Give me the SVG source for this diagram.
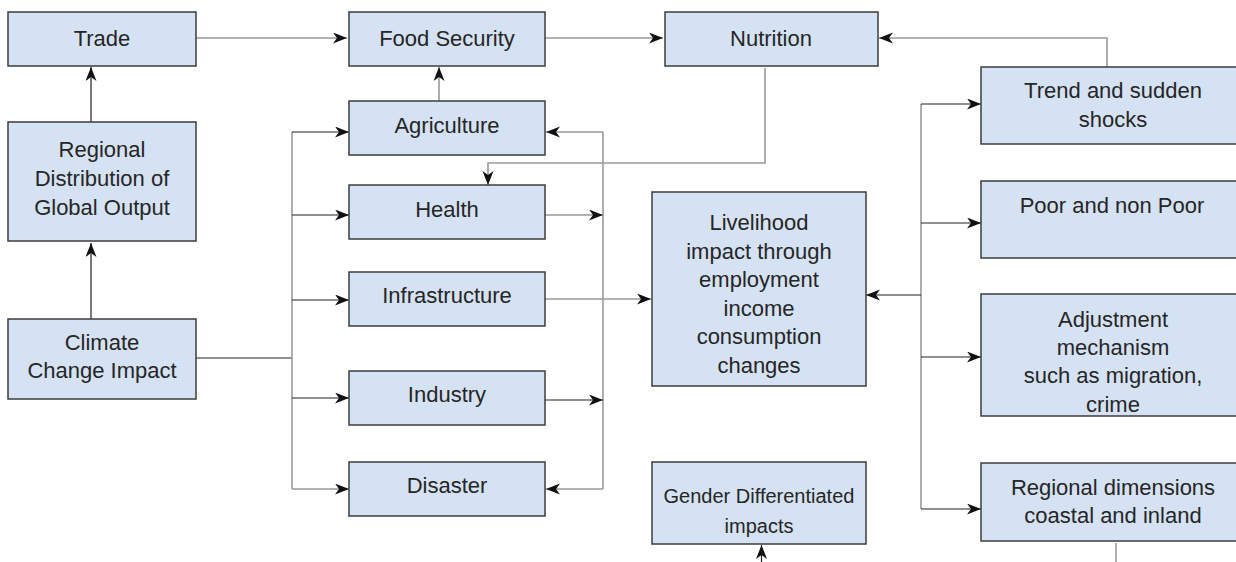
<svg xmlns="http://www.w3.org/2000/svg" width="1236" height="562" viewBox="0 0 1236 562">
<style>
.box{fill:#d5e2f3;stroke:#3c3c3c;stroke-width:1.5}
.t{font-family:"Liberation Sans",Arial,sans-serif;font-size:22px;fill:#262626;text-anchor:middle}
.s{font-size:20px}
.c{fill:none;stroke:#222;stroke-width:1.2}
.g{fill:none;stroke:#9a9a9a;stroke-width:1.6}
</style>
<defs>
<marker id="a" markerUnits="userSpaceOnUse" markerWidth="16" markerHeight="13" refX="14" refY="5.5" orient="auto">
<path d="M0,0 L14,5.5 L0,11 L4,5.5 z" fill="#111"/>
</marker>
</defs>
<rect width="1236" height="562" fill="#fff"/>
<g id="connectors">
<path class="g" d="M196,38 H347" marker-end="url(#a)"/>
<path class="g" d="M545,38 H663" marker-end="url(#a)"/>
<path class="c" d="M91,122 V67" marker-end="url(#a)"/>
<path class="g" d="M439,102 V67" marker-end="url(#a)"/>
<path class="c" d="M91,319 V243" marker-end="url(#a)"/>
<path class="c" d="M196,358 H292"/>
<path class="g" d="M292,132 V489"/>
<path class="c" d="M292,132 H349" marker-end="url(#a)"/>
<path class="c" d="M292,215 H349" marker-end="url(#a)"/>
<path class="c" d="M292,300 H349" marker-end="url(#a)"/>
<path class="c" d="M292,398 H349" marker-end="url(#a)"/>
<path class="g" d="M292,489 H349" marker-end="url(#a)"/>
<path class="g" d="M603,132 V489"/>
<path class="g" d="M603,132 H546" marker-end="url(#a)"/>
<path class="g" d="M603,489 H546" marker-end="url(#a)"/>
<path class="g" d="M545,215 H603" marker-end="url(#a)"/>
<path class="c" d="M545,400 H603" marker-end="url(#a)"/>
<path class="g" d="M545,299 H651" marker-end="url(#a)"/>
<path class="g" d="M765,68 V163 H488 V185" marker-end="url(#a)"/>
<path class="g" d="M1107,67 V38 H879" marker-end="url(#a)"/>
<path class="g" d="M921,104 V509"/>
<path class="c" d="M921,104 H981" marker-end="url(#a)"/>
<path class="c" d="M921,223 H981" marker-end="url(#a)"/>
<path class="c" d="M921,295 H866" marker-end="url(#a)"/>
<path class="c" d="M921,357 H981" marker-end="url(#a)"/>
<path class="c" d="M921,509 H981" marker-end="url(#a)"/>
<path class="c" d="M761.5,562 V545" marker-end="url(#a)"/>
<path class="g" d="M1116,543 V562"/>
</g>
<g id="trade"><rect class="box" x="8" y="12" width="188" height="54"/><text class="t" x="102" y="46">Trade</text></g>
<g id="food-security"><rect class="box" x="349" y="12" width="196" height="54"/><text class="t" x="447" y="46">Food Security</text></g>
<g id="nutrition"><rect class="box" x="665" y="12" width="213" height="54"/><text class="t" x="771" y="46">Nutrition</text></g>
<g id="agriculture"><rect class="box" x="349" y="101" width="196" height="54"/><text class="t" x="447" y="133">Agriculture</text></g>
<g id="regional-distribution"><rect class="box" x="8" y="122" width="188" height="119"/><text class="t" x="102" y="157">Regional</text><text class="t" x="102" y="186">Distribution of</text><text class="t" x="102" y="215">Global Output</text></g>
<g id="health"><rect class="box" x="349" y="185" width="196" height="54"/><text class="t" x="447" y="217">Health</text></g>
<g id="infrastructure"><rect class="box" x="349" y="272" width="196" height="54"/><text class="t" x="447" y="303">Infrastructure</text></g>
<g id="climate"><rect class="box" x="8" y="319" width="188" height="80"/><text class="t" x="102" y="350">Climate</text><text class="t" x="102" y="378">Change Impact</text></g>
<g id="industry"><rect class="box" x="349" y="371" width="196" height="54"/><text class="t" x="447" y="402">Industry</text></g>
<g id="disaster"><rect class="box" x="349" y="462" width="196" height="54"/><text class="t" x="447" y="493">Disaster</text></g>
<g id="livelihood"><rect class="box" x="652" y="192" width="214" height="194"/>
<text class="t" x="759" y="230">Livelihood</text><text class="t" x="759" y="258.6">impact through</text><text class="t" x="759" y="287.2">employment</text><text class="t" x="759" y="315.8">income</text><text class="t" x="759" y="344.4">consumption</text><text class="t" x="759" y="373">changes</text></g>
<g id="gender"><rect class="box" x="652" y="462" width="214" height="82"/><text class="t s" x="759" y="503">Gender Differentiated</text><text class="t s" x="759" y="533">impacts</text></g>
<g id="trend"><rect class="box" x="981" y="67" width="264" height="77"/><text class="t" x="1113" y="98">Trend and sudden</text><text class="t" x="1113" y="127">shocks</text></g>
<g id="poor"><rect class="box" x="981" y="181" width="264" height="77"/><text class="t" x="1112" y="213">Poor and non Poor</text></g>
<g id="adjustment"><rect class="box" x="981" y="294" width="264" height="122"/><text class="t" x="1113" y="327">Adjustment</text><text class="t" x="1113" y="355">mechanism</text><text class="t" x="1113" y="383">such as migration,</text><text class="t" x="1113" y="411.5">crime</text></g>
<g id="regional-dimensions"><rect class="box" x="981" y="463" width="264" height="78"/><text class="t" x="1113" y="495">Regional dimensions</text><text class="t" x="1113" y="523">coastal and inland</text></g>
</svg>
